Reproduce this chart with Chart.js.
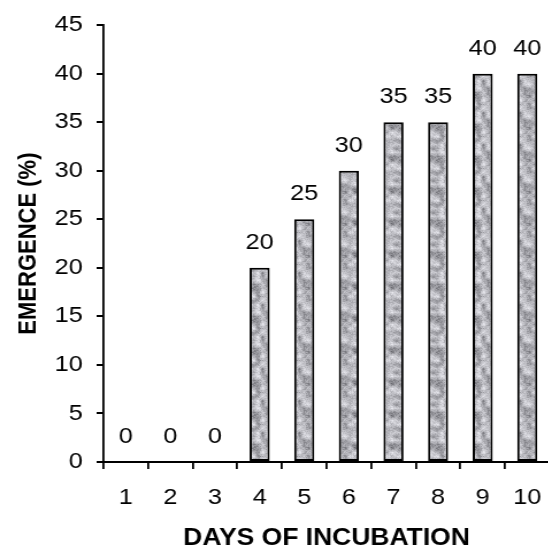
<!DOCTYPE html>
<html>
<head>
<meta charset="utf-8">
<script src="https://cdn.jsdelivr.net/npm/chart.js@4"></script>
<style>
  html, body { margin: 0; padding: 0; background: #fff; overflow: hidden; }
  /* the reference looks stretched sideways, so draw narrow and widen it */
  #wrap { width: 487px; height: 548px; transform: scaleX(1.15); transform-origin: 0 0; }
</style>
</head>
<body>
<div id="wrap"><canvas id="chart" width="487" height="548"></canvas></div>
<script>
// data
const days = ["1", "2", "3", "4", "5", "6", "7", "8", "9", "10"];
const emergence = [0, 0, 0, 20, 25, 30, 35, 35, 40, 40];
const yTicks = [0, 5, 10, 15, 20, 25, 30, 35, 40, 45];

const FONT = "'Liberation Sans', Arial, sans-serif";

// granite-like fill for the bars (fixed seed so it looks the same each run)
function makeGranite() {
    const size = 32, cell = 4;
    const c = document.createElement("canvas");
    c.width = size; c.height = size;
    const g = c.getContext("2d");
    let seed = 987;
    const rnd = () => (seed = (seed * 1103515245 + 12345) % 2147483648) / 2147483648;
    const n = size / cell;
    const grid = [];
    for (let i = 0; i < n * n; i++) grid.push(rnd());
    const at = (x, y) => grid[((y + n) % n) * n + ((x + n) % n)];
    const img = g.createImageData(size, size);
    for (let y = 0; y < size; y++) {
        for (let x = 0; x < size; x++) {
            const fx = x / cell, fy = y / cell;
            const x0 = Math.floor(fx), y0 = Math.floor(fy);
            const tx = fx - x0, ty = fy - y0;
            const v = (at(x0, y0) * (1 - tx) + at(x0 + 1, y0) * tx) * (1 - ty) +
                      (at(x0, y0 + 1) * (1 - tx) + at(x0 + 1, y0 + 1) * tx) * ty;
            const mix = v * 0.75 + rnd() * 0.25;
            let gray = 70 + Math.pow(mix, 0.55) * 172;
            gray = Math.max(62, Math.min(232, gray));
            const k = (y * size + x) * 4;
            img.data[k] = gray; img.data[k + 1] = gray; img.data[k + 2] = gray + 6; img.data[k + 3] = 255;
        }
    }
    g.putImageData(img, 0, 0);
    return document.getElementById("chart").getContext("2d").createPattern(c, "repeat");
}

const valueLabels = {
    id: "valueLabels",
    afterDatasetsDraw(chart) {
        const ctx = chart.ctx;
        const meta = chart.getDatasetMeta(0);
        ctx.save();
        ctx.fillStyle = "#000";
        ctx.font = "22px " + FONT;
        ctx.textAlign = "center";
        ctx.textBaseline = "middle";
        meta.data.forEach((bar, i) => {
            ctx.fillText(String(emergence[i]), bar.x, bar.y - 25);
        });
        ctx.restore();
    }
};

new Chart(document.getElementById("chart"), {
    type: "bar",
    data: {
        labels: days,
        datasets: [{
            data: emergence,
            backgroundColor: makeGranite(),
            borderColor: "#000",
            borderWidth: 2,
            borderSkipped: false,
            barPercentage: 0.45,
            categoryPercentage: 1
        }]
    },
    options: {
        responsive: false,
        devicePixelRatio: 1,
        animation: false,
        layout: { padding: { left: 0, top: 20, right: 5, bottom: 0 } },
        plugins: {
            legend: { display: false },
            tooltip: { enabled: false }
        },
        scales: {
            x: {
                offset: true,
                grid: { display: true, drawOnChartArea: false, offset: true, tickLength: 7, color: "#000", lineWidth: 1.8 },
                border: { display: true, color: "#000", width: 2 },
                ticks: { color: "#000", font: { family: FONT, size: 22 }, padding: 16, maxRotation: 0 },
                title: {
                    display: true,
                    text: "DAYS OF INCUBATION",
                    color: "#000",
                    font: { family: FONT, size: 23, weight: "bold", lineHeight: 1 },
                    padding: { top: 0, bottom: -2 }
                },
                afterFit: scale => { scale.height = 86; }
            },
            y: {
                min: 0,
                max: 45,
                afterBuildTicks: scale => { scale.ticks = yTicks.map(v => ({ value: v })); },
                grid: { display: true, drawOnChartArea: false, tickLength: 6, color: "#000", lineWidth: 2 },
                border: { display: true, color: "#000", width: 1.8 },
                ticks: { color: "#000", font: { family: FONT, size: 22 }, padding: 12 },
                title: {
                    display: true,
                    text: "EMERGENCE (%)",
                    color: "#000",
                    font: { family: FONT, size: 22, weight: "bold", lineHeight: 1 },
                    padding: { top: 14, bottom: 0 }
                },
                afterFit: scale => { scale.width = 90; }
            }
        }
    },
    plugins: [valueLabels]
});
</script>
</body>
</html>
